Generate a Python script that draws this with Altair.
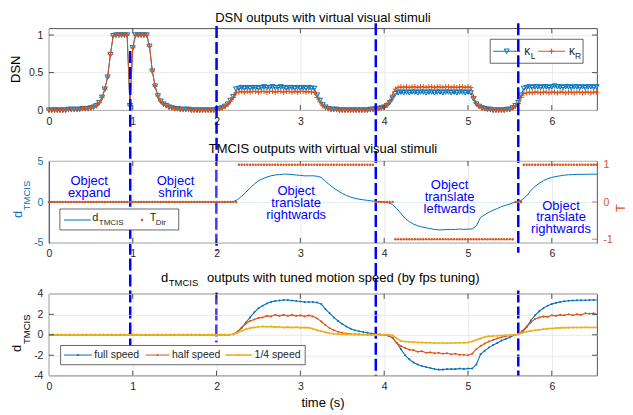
import altair as alt
import pandas as pd

FONT = "Liberation Sans"
BLUE = "#0072BD"
ORANGE = "#D95319"
YELLOW = "#EDB120"
MARK = "#0000FF"
AX = "#262626"
GRID = "#e3e3e3"
W, H = 549, 82
XDOM = [0, 6.54]
PLUS = "M-1,0H1M0,-1V1"

# ---------------- data ----------------
x_ticks = [0, 1, 2, 3, 4, 5, 6]
dsn_ticks = [0, 0.5, 1]
d_ticks = [-5, 0, 5]
tdir_ticks = [-1, 0, 1]
spd_ticks = [-4, -2, 0, 2, 4]
event_times = [0.97, 2.0, 3.9, 5.6]

# DSN outputs, 30 frames per second
kappa_L = [
    0.0, 0.0, 0.0, 0.0, 0.0, 0.0, 0.0, 0.01, 0.01, 0.01,
    0.01, 0.01, 0.02, 0.02, 0.02,
    0.03, 0.04, 0.06, 0.10, 0.17,
    0.28, 0.44, 0.74, 0.99,
    1.0, 1.0, 1.0, 1.0, 1.0,
    0.06, 0.83,
    1.0, 1.0, 1.0, 1.0, 1.0,
    0.85, 0.52, 0.32, 0.19, 0.12, 0.08,
    0.06, 0.04, 0.03, 0.02, 0.02, 0.01, 0.01, 0.01,
    0.01, 0.0, 0.0, 0.0, 0.0, 0.0, 0.0, 0.0, 0.0, 0.0,
    0.01, 0.02, 0.03, 0.05, 0.08, 0.13, 0.18,
    0.28, 0.29, 0.30, 0.29, 0.30, 0.29, 0.30, 0.30, 0.29, 0.30,
    0.31, 0.30, 0.30, 0.31, 0.30, 0.30, 0.31, 0.30, 0.29, 0.30,
    0.30, 0.29, 0.30, 0.29, 0.30, 0.29, 0.30, 0.29, 0.29,
    0.20, 0.13, 0.07, 0.04, 0.02,
    0.01, 0.01, 0.01, 0.0, 0.0, 0.0, 0.0, 0.0, 0.0, 0.0,
    0.0, 0.0, 0.0, 0.0, 0.01, 0.01,
    0.02, 0.02, 0.03, 0.04, 0.06, 0.10, 0.16,
    0.22, 0.23, 0.24, 0.23, 0.24, 0.23, 0.24, 0.24, 0.23, 0.24,
    0.24, 0.23, 0.24, 0.24, 0.23, 0.24, 0.24, 0.23, 0.24, 0.24,
    0.23, 0.24, 0.23, 0.24, 0.24, 0.23, 0.24, 0.23,
    0.15, 0.08, 0.05, 0.03, 0.02,
    0.01, 0.01, 0.0, 0.0, 0.0, 0.0, 0.0, 0.01, 0.01,
    0.03, 0.06, 0.10, 0.20,
    0.29, 0.30, 0.31, 0.30, 0.31, 0.31, 0.30, 0.31, 0.31, 0.30,
    0.31, 0.32, 0.31, 0.31, 0.30, 0.31, 0.31, 0.30, 0.31, 0.31,
    0.30, 0.31, 0.30, 0.31, 0.31, 0.30, 0.31,
]
kappa_R = [
    0.0, 0.0, 0.0, 0.0, 0.0, 0.0, 0.0, 0.01, 0.01, 0.01,
    0.01, 0.01, 0.02, 0.02, 0.02,
    0.03, 0.04, 0.06, 0.10, 0.17,
    0.28, 0.44, 0.74, 0.99,
    1.0, 1.0, 1.0, 1.0, 1.0,
    0.06, 0.83,
    1.0, 1.0, 1.0, 1.0, 1.0,
    0.85, 0.52, 0.32, 0.19, 0.12, 0.08,
    0.06, 0.04, 0.03, 0.02, 0.02, 0.01, 0.01, 0.01,
    0.01, 0.0, 0.0, 0.0, 0.0, 0.0, 0.0, 0.0, 0.0, 0.0,
    0.01, 0.02, 0.03, 0.05, 0.08, 0.12, 0.17,
    0.23, 0.24, 0.25, 0.24, 0.25, 0.24, 0.25, 0.25, 0.24, 0.25,
    0.25, 0.24, 0.25, 0.25, 0.24, 0.25, 0.25, 0.24, 0.25, 0.25,
    0.24, 0.25, 0.24, 0.25, 0.25, 0.24, 0.25, 0.24, 0.24,
    0.17, 0.11, 0.06, 0.03, 0.02,
    0.01, 0.01, 0.01, 0.0, 0.0, 0.0, 0.0, 0.0, 0.0, 0.0,
    0.0, 0.0, 0.0, 0.0, 0.01, 0.01,
    0.02, 0.02, 0.03, 0.04, 0.07, 0.12, 0.20,
    0.28, 0.30, 0.31, 0.30, 0.31, 0.30, 0.31, 0.31, 0.30, 0.31,
    0.31, 0.30, 0.31, 0.31, 0.30, 0.31, 0.31, 0.30, 0.31, 0.31,
    0.30, 0.31, 0.30, 0.31, 0.31, 0.30, 0.31, 0.30,
    0.18, 0.09, 0.05, 0.03, 0.02,
    0.01, 0.01, 0.0, 0.0, 0.0, 0.0, 0.0, 0.01, 0.01,
    0.03, 0.05, 0.09, 0.17,
    0.22, 0.23, 0.24, 0.23, 0.24, 0.24, 0.23, 0.24, 0.24, 0.23,
    0.24, 0.24, 0.23, 0.24, 0.24, 0.23, 0.24, 0.24, 0.23, 0.24,
    0.24, 0.23, 0.24, 0.24, 0.23, 0.24, 0.24,
]
# T_Dir, 30 frames per second
t_dir = [0] * 68 + [1] * 49 + [0] * 7 + [-1] * 43 + [0] * 3 + [1] * 27

# TMCIS outputs, one sample every 0.05 s
d_tmcis = [0.0] * 44 + [
    0.05, 0.3, 0.7, 1.2, 1.7, 2.2, 2.6, 2.85, 3.05, 3.2,
    3.3, 3.35, 3.4, 3.4, 3.35, 3.3, 3.25, 3.2, 3.2, 3.2,
    3.15, 3.0, 2.5, 2.1, 1.7, 1.35, 1.05, 0.8, 0.6, 0.45,
    0.35, 0.27, 0.2, 0.13, 0.08, 0.04, 0.0, -0.1, -0.3, -0.8,
    -1.4, -2.0, -2.4, -2.7, -2.9, -3.05, -3.15, -3.25, -3.35, -3.4,
    -3.4, -3.35, -3.35, -3.35, -3.3, -3.35, -3.3, -3.3, -2.9, -1.9,
    -1.55, -1.25, -1.0, -0.8, -0.55, -0.4, -0.25, -0.05, 0.05, 0.3,
    0.75, 1.4, 1.9, 2.3, 2.6, 2.85, 3.0, 3.12, 3.2, 3.28,
    3.32, 3.35, 3.37, 3.38, 3.38, 3.4, 3.4, 3.4,
]
full_speed = list(d_tmcis)
half_speed = [0.0] * 44 + [
    0.05, 0.3, 0.7, 1.1, 1.35, 1.5, 1.65, 1.7, 1.85, 1.8,
    1.95, 1.85, 1.95, 1.85, 1.95, 1.85, 1.9, 1.8, 1.9, 1.8,
    1.6, 1.3, 0.95, 0.65, 0.45, 0.3, 0.2, 0.12, 0.08, 0.06,
    0.05, 0.03, 0.02, 0.01, 0.0, 0.0, 0.0, -0.05, -0.3, -0.8,
    -1.1, -1.3, -1.45, -1.5, -1.65, -1.6, -1.75, -1.7, -1.8, -1.75,
    -1.85, -1.8, -1.9, -1.85, -1.95, -1.95, -2.0, -1.85, -1.4, -1.1,
    -0.85, -0.65, -0.5, -0.35, -0.25, -0.15, -0.08, -0.02, 0.05, 0.4,
    0.8, 1.2, 1.55, 1.7, 1.8, 1.75, 1.9, 1.85, 1.95, 1.9,
    2.0, 1.9, 2.0, 1.95, 2.1, 2.05, 2.1, 1.9,
]
quarter_speed = [0.0] * 44 + [
    0.05, 0.2, 0.4, 0.55, 0.65, 0.72, 0.78, 0.8, 0.78, 0.8,
    0.75, 0.78, 0.72, 0.75, 0.72, 0.74, 0.7, 0.72, 0.7, 0.6,
    0.45, 0.35, 0.25, 0.15, 0.1, 0.07, 0.05, 0.04, 0.03, 0.02,
    0.02, 0.01, 0.0, 0.0, 0.0, 0.0, 0.0, 0.0, -0.05, -0.35,
    -0.6, -0.65, -0.7, -0.7, -0.75, -0.75, -0.78, -0.78, -0.8, -0.8,
    -0.8, -0.82, -0.8, -0.8, -0.78, -0.78, -0.75, -0.65, -0.5, -0.35,
    -0.22, -0.15, -0.12, -0.1, -0.07, -0.05, -0.03, 0.0, 0.05, 0.2,
    0.3, 0.38, 0.45, 0.5, 0.55, 0.6, 0.62, 0.65, 0.68, 0.7,
    0.7, 0.72, 0.72, 0.72, 0.73, 0.72, 0.72, 0.72,
]

# annotation lines of the TMCIS panel (one row per text line)
annot_t = [0.48, 0.48, 1.51, 1.51,
           2.95, 2.95, 2.95,
           4.78, 4.78, 4.78,
           6.11, 6.11, 6.11]
annot_v = [2.55, 1.12, 2.55, 1.12,
           1.29, -0.14, -1.57,
           2.03, 0.60, -0.83,
           -0.43, -1.86, -3.29]
annot_text = ["Object", "expand", "Object", "shrink",
              "Object", "translate", "rightwards",
              "Object", "translate", "leftwards",
              "Object", "translate", "rightwards"]

# ---------------- helpers ----------------
ONE = pd.DataFrame({"a": [0]})
xs = alt.Scale(domain=XDOM, nice=False, zero=False)


def series_df(vals, dt):
    return pd.DataFrame({"t": [i * dt for i in range(len(vals))], "v": vals})


def x_axis():
    return alt.Axis(values=x_ticks, title=None, ticks=False, domain=False, grid=True,
                    gridColor=GRID, gridWidth=0.8, labelFont=FONT, labelFontSize=10.5,
                    labelColor=AX, labelPadding=6, labelFlush=False, labelOverlap=False,
                    labelExpr="toString(datum.value)")


def X():
    return alt.X("t:Q", scale=xs, axis=x_axis())


def y_axis(vals, color=AX, orient="left", grid=True, grid_color=GRID, domain=False):
    kw = dict(values=vals, title=None, ticks=False, grid=grid, labelFont=FONT,
              labelFontSize=10.5, labelColor=color, labelPadding=6, labelFlush=False,
              labelOverlap=False, labelExpr="toString(datum.value)", orient=orient,
              domain=domain)
    if grid:
        kw["gridColor"] = grid_color
        kw["gridWidth"] = 0.8
    if domain:
        kw["domainColor"] = color
        kw["domainWidth"] = 1
    return alt.Axis(**kw)


def txt(s, x, y, size=13, color="#000000", angle=0, align="center", baseline="middle"):
    return alt.Chart(ONE).mark_text(text=s, font=FONT, fontSize=size, color=color,
                                    angle=angle, align=align, baseline=baseline).encode(
        x=alt.value(x), y=alt.value(y))


def box(x1, x2, y1, y2):
    return alt.Chart(ONE).mark_rect(fill="white", stroke=AX, strokeWidth=0.7).encode(
        x=alt.value(x1), x2=alt.value(x2), y=alt.value(y1), y2=alt.value(y2))


def hline(x1, x2, y, color, w=1.0):
    return alt.Chart(ONE).mark_rule(color=color, strokeWidth=w).encode(
        x=alt.value(x1), x2=alt.value(x2), y=alt.value(y))


def sym(x, y, shape, color, size, filled, sw=1.0):
    return alt.Chart(ONE).mark_point(shape=shape, color=color, size=size, filled=filled,
                                     strokeWidth=sw, opacity=1).encode(
        x=alt.value(x), y=alt.value(y))


def xticks():
    d = pd.DataFrame({"t": x_ticks[1:]})
    return [
        alt.Chart(d).mark_rule(color=AX, strokeWidth=0.8).encode(x=X(), y=alt.value(H), y2=alt.value(H - 5)),
        alt.Chart(d).mark_rule(color=AX, strokeWidth=0.8).encode(x=X(), y=alt.value(0), y2=alt.value(5)),
    ]


def yticks(vals, Yfn, color=AX, left=True, right=True):
    d = pd.DataFrame({"v": vals})
    out = []
    if left:
        out.append(alt.Chart(d).mark_rule(color=color, strokeWidth=0.8).encode(
            y=Yfn(), x=alt.value(0), x2=alt.value(5)))
    if right:
        out.append(alt.Chart(d).mark_rule(color=color, strokeWidth=0.8).encode(
            y=Yfn(), x=alt.value(W - 5), x2=alt.value(W)))
    return out


def event_line(t, y1, y2):
    return alt.Chart(pd.DataFrame({"t": [t]})).mark_rule(
        color=MARK, strokeWidth=2.5, strokeDash=[12, 4]).encode(
        x=X(), y=alt.value(y1), y2=alt.value(y2))


# ---------------- panel 1: DSN ----------------
ys1 = alt.Scale(domain=[0, 1.09], nice=False, zero=False)


def Y1():
    return alt.Y("v:Q", scale=ys1, axis=y_axis(dsn_ticks))


kl = series_df(kappa_L, 1 / 30)
kr = series_df(kappa_R, 1 / 30)
p1_layers = [
    alt.Chart(kl).mark_line(color=BLUE, strokeWidth=1).encode(x=X(), y=Y1()),
    alt.Chart(kl).mark_point(shape="triangle-down", color=BLUE, size=26, filled=False,
                             strokeWidth=1, opacity=1).encode(x=X(), y=Y1()),
    alt.Chart(kr).mark_line(color=ORANGE, strokeWidth=1).encode(x=X(), y=Y1()),
    alt.Chart(kr).mark_point(shape=PLUS, color=ORANGE, size=30, filled=False,
                             strokeWidth=1, opacity=1).encode(x=X(), y=Y1()),
]
p1_layers += xticks() + yticks(dsn_ticks[1:], Y1)
p1_layers += [
    box(442, 535, 11, 35),
    hline(445, 472, 23, BLUE),
    sym(458.5, 23, "triangle-down", BLUE, 26, False, 1),
    txt("κ", 476, 22.7, size=12, color=AX, align="left"),
    txt("L", 482.5, 27.5, size=8.5, color=AX, align="left"),
    hline(490, 517, 23, ORANGE),
    sym(503.5, 23, PLUS, ORANGE, 30, False, 1),
    txt("κ", 521, 22.7, size=12, color=AX, align="left"),
    txt("R", 527, 27.5, size=8.5, color=AX, align="left"),
    txt("DSN outputs with virtual visual stimuli", W / 2, -10.5),
    txt("DSN", -33, 41, angle=270),
]
# dashed event markers spanning the figure (pixel offsets from the top panel)
p1_layers += [
    event_line(event_times[0], 22.7, 317.7),
    event_line(event_times[1], -2.3, 222.7),
    event_line(event_times[1], 264.7, 314.7),
    event_line(event_times[2], -5, 348),
    event_line(event_times[3], -5, 224.7),
    event_line(event_times[3], 262.7, 348),
]
p1 = alt.layer(*p1_layers).properties(width=W, height=H)

# ---------------- panel 2: TMCIS ----------------
ys2 = alt.Scale(domain=[-5, 5], nice=False, zero=False)
ys2r = alt.Scale(domain=[-1.1, 1.1], nice=False, zero=False)


def Y2():
    return alt.Y("v:Q", scale=ys2, axis=y_axis(d_ticks, color=BLUE, grid_color="#dbe8f3", domain=True))


def Y2r():
    return alt.Y("v:Q", scale=ys2r, axis=y_axis(tdir_ticks, color=ORANGE, orient="right",
                                                 grid=False, domain=True))


dd = series_df(d_tmcis, 0.05)
td = series_df(t_dir, 1 / 30)
ann = pd.DataFrame({"t": annot_t, "v": annot_v, "label": annot_text})

left_layers = [
    alt.Chart(dd).mark_line(color=BLUE, strokeWidth=1, clip=True).encode(x=X(), y=Y2()),
    alt.Chart(ann).mark_text(font=FONT, fontSize=13, color=MARK,
                             align="center", baseline="middle").encode(
        x=X(), y=Y2(), text="label:N"),
]
left_layers += xticks() + yticks([0], Y2, color=BLUE, right=False)
left_layers += [
    box(11, 130, 48, 69),
    hline(15, 42, 59, BLUE),
    txt("d", 43.5, 57.5, size=11, color=AX, align="left"),
    txt("TMCIS", 50, 62, size=8, color=AX, align="left"),
    sym(93.3, 59, "circle", ORANGE, 6, True),
    txt("T", 101, 57.5, size=11, color=AX, align="left"),
    txt("Dir", 107, 62, size=8, color=AX, align="left"),
    txt("TMCIS outputs with virtual visual stimuli", W / 2, -12),
    txt("d", -31, 53.5, color=BLUE, angle=270),
    txt("TMCIS", -22, 34.5, size=9.5, color=BLUE, angle=270),
    txt("T", 573, 47, color=ORANGE, angle=270),
    txt("Dir", 581.5, 36.5, size=9.5, color=ORANGE, angle=270),
]
right_layers = [
    alt.Chart(td).mark_point(shape="circle", color=ORANGE, size=6, filled=True, opacity=1).encode(
        x=X(), y=Y2r()),
] + yticks(tdir_ticks, Y2r, color=ORANGE, left=False)

p2 = alt.layer(alt.layer(*left_layers), alt.layer(*right_layers)).resolve_scale(
    y="independent").properties(width=W, height=H)

# ---------------- panel 3: speeds ----------------
ys3 = alt.Scale(domain=[-4, 4], nice=False, zero=False)


def Y3():
    return alt.Y("v:Q", scale=ys3, axis=y_axis(spd_ticks))


p3_layers = []
for vals, col, lw in [(full_speed, BLUE, 1.1), (half_speed, ORANGE, 1.1), (quarter_speed, YELLOW, 1.6)]:
    d = series_df(vals, 0.05)
    p3_layers.append(alt.Chart(d).mark_line(color=col, strokeWidth=lw, clip=True).encode(x=X(), y=Y3()))
    p3_layers.append(alt.Chart(d).mark_point(shape="circle", color=col, size=4, filled=True,
                                             opacity=1, clip=True).encode(x=X(), y=Y3()))
p3_layers += xticks() + yticks(spd_ticks[1:-1], Y3)
p3_layers += [
    box(11.7, 256.7, 51.7, 71),
    hline(15, 43, 61.3, BLUE),
    sym(29, 61.3, "circle", BLUE, 4, True),
    txt("full speed", 45.5, 61.3, size=10.5, color=AX, align="left"),
    hline(96.7, 120.7, 61.3, ORANGE),
    sym(108.7, 61.3, "circle", ORANGE, 4, True),
    txt("half speed", 123.3, 61.3, size=10.5, color=AX, align="left"),
    hline(176.7, 203.3, 61.3, YELLOW, 1.6),
    sym(190, 61.3, "circle", YELLOW, 4, True),
    txt("1/4 speed", 206, 61.3, size=10.5, color=AX, align="left"),
    txt("d", 112.3, -16, align="left"),
    txt("TMCIS", 120, -10.5, size=9.5, align="left"),
    txt("outputs with tuned motion speed (by fps tuning)", 158.3, -16, align="left"),
    txt("d", -32, 54.7, angle=270),
    txt("TMCIS", -22, 35.4, size=9.5, angle=270),
    txt("time (s)", W / 2, 109.7),
]
p3 = alt.layer(*p3_layers).properties(width=W, height=H)

chart = alt.vconcat(p1, p2, p3, spacing=51, bounds="flush").properties(
    padding={"left": 1, "top": 3, "right": -10, "bottom": 0},
    background="white",
).configure_view(stroke=AX, strokeWidth=0.8)

chart.save("out.html", embed_options={"renderer": "svg", "actions": False})
